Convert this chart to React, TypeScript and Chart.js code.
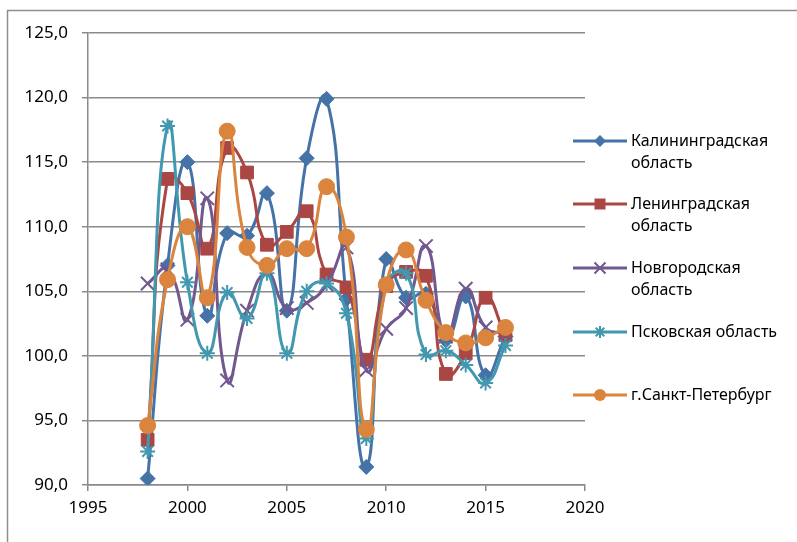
import React, { useEffect, useRef } from "react";
import { Chart, registerables } from "chart.js";

Chart.register(...registerables);

const years = [1998, 1999, 2000, 2001, 2002, 2003, 2004, 2005, 2006, 2007, 2008, 2009, 2010, 2011, 2012, 2013, 2014, 2015, 2016];

const kaliningrad = [90.5, 107.0, 115.0, 103.1, 109.5, 109.3, 112.6, 103.5, 115.3, 119.9, 104.4, 91.4, 107.5, 104.5, 104.8, 101.2, 104.6, 98.5, 101.5];
const leningrad = [93.5, 113.7, 112.6, 108.3, 116.1, 114.2, 108.6, 109.6, 111.2, 106.3, 105.3, 99.7, 105.4, 106.5, 106.2, 98.6, 100.2, 104.5, 101.6];
const novgorod = [105.6, 106.7, 102.8, 112.2, 98.1, 103.5, 106.4, 103.7, 104.1, 105.5, 108.4, 98.9, 102.1, 103.7, 108.5, 101.5, 105.2, 102.2, 101.7];
const pskov = [92.6, 117.8, 105.7, 100.2, 104.9, 102.9, 106.4, 100.2, 105.0, 105.6, 103.3, 93.6, 105.5, 106.4, 100.1, 100.4, 99.3, 97.9, 100.8];
const spb = [94.6, 105.9, 110.0, 104.5, 117.4, 108.4, 107.0, 108.3, 108.3, 113.1, 109.2, 94.3, 105.5, 108.2, 104.3, 101.8, 101.0, 101.4, 102.2];

const seriesNames = [
  ["Калининградская", "область"],
  ["Ленинградская", "область"],
  ["Новгородская", "область"],
  ["Псковская область"],
  ["г.Санкт-Петербург"],
];
const seriesValues = [kaliningrad, leningrad, novgorod, pskov, spb];
const seriesColors = ["#4572A7", "#AA4643", "#71588F", "#4198AF", "#DB843D"];
const seriesShapes = ["rectRot", "rect", "crossRot", "star", "circle"];
const seriesRadius = [7.5, 9, 9.5, 7.5, 8];

const xMin = 1995;
const xMax = 2020;
const yMin = 90;
const yMax = 125;

const FONT = "'Noto Sans', 'Open Sans', sans-serif";
const GRID = "#8a8a8a";

const framePlugin = {
  id: "frame",
  beforeDraw(chart: any) {
    const ctx = chart.ctx;
    ctx.save();
    ctx.strokeStyle = "#8f8f8f";
    ctx.lineWidth = 1.5;
    ctx.beginPath();
    ctx.moveTo(7.5, 542);
    ctx.lineTo(7.5, 10.5);
    ctx.lineTo(797, 10.5);
    ctx.stroke();
    ctx.restore();
  },
};

function drawMarker(ctx: CanvasRenderingContext2D, shape: string, x: number, y: number, color: string) {
  ctx.save();
  ctx.fillStyle = color;
  ctx.strokeStyle = color;
  ctx.beginPath();
  if (shape === "rectRot") {
    const r = 6;
    ctx.moveTo(x, y - r);
    ctx.lineTo(x + r, y);
    ctx.lineTo(x, y + r);
    ctx.lineTo(x - r, y);
    ctx.closePath();
    ctx.fill();
  } else if (shape === "rect") {
    const s = 5.5;
    ctx.rect(x - s, y - s, 2 * s, 2 * s);
    ctx.fill();
  } else if (shape === "circle") {
    ctx.arc(x, y, 6, 0, Math.PI * 2);
    ctx.fill();
  } else if (shape === "crossRot") {
    const r = 5.5;
    ctx.lineWidth = 2;
    ctx.moveTo(x - r, y - r);
    ctx.lineTo(x + r, y + r);
    ctx.moveTo(x + r, y - r);
    ctx.lineTo(x - r, y + r);
    ctx.stroke();
  } else if (shape === "star") {
    const r = 6;
    ctx.lineWidth = 2;
    const d = r * Math.SQRT1_2;
    ctx.moveTo(x, y - r);
    ctx.lineTo(x, y + r);
    ctx.moveTo(x - d, y - d);
    ctx.lineTo(x + d, y + d);
    ctx.moveTo(x + d, y - d);
    ctx.lineTo(x - d, y + d);
    ctx.stroke();
  }
  ctx.restore();
}

const legendPlugin = {
  id: "customLegend",
  afterDraw(chart: any) {
    const ctx = chart.ctx;
    const ys = [141, 204, 268, 332, 395];
    ctx.save();
    seriesNames.forEach((lines, i) => {
      const y = ys[i];
      ctx.strokeStyle = seriesColors[i];
      ctx.lineWidth = 3;
      ctx.beginPath();
      ctx.moveTo(573, y);
      ctx.lineTo(627, y);
      ctx.stroke();
      drawMarker(ctx, seriesShapes[i], 600, y, seriesColors[i]);
      ctx.fillStyle = "#000";
      ctx.font = `16px ${FONT}`;
      ctx.textBaseline = "middle";
      ctx.textAlign = "left";
      lines.forEach((t, k) => ctx.fillText(t, 631, y + k * 22));
    });
    ctx.restore();
  },
};

export default function App() {
  const ref = useRef<HTMLCanvasElement | null>(null);

  useEffect(() => {
    if (!ref.current) return;
    const datasets = seriesValues.map((vals, i) => ({
      label: seriesNames[i].join(" "),
      data: years.map((yr, k) => ({ x: yr, y: vals[k] })),
      borderColor: seriesColors[i],
      backgroundColor: seriesColors[i],
      pointBackgroundColor: seriesColors[i],
      pointBorderColor: seriesColors[i],
      pointStyle: seriesShapes[i],
      pointRadius: seriesRadius[i],
      pointBorderWidth: seriesShapes[i] === "crossRot" || seriesShapes[i] === "star" ? 2 : 1,
      borderWidth: 3,
      tension: 0.5,
      fill: false,
      order: 5 - i,
    }));
    const chart = new Chart(ref.current, {
      type: "line",
      data: { datasets },
      plugins: [framePlugin, legendPlugin],
      options: {
        animation: false,
        responsive: true,
        maintainAspectRatio: false,
        layout: { padding: { left: 0, top: 33, right: 212, bottom: 17 } },
        plugins: { legend: { display: false }, tooltip: { enabled: false } },
        elements: { line: { capBezierPoints: true } },
        scales: {
          x: {
            type: "linear",
            min: xMin,
            max: xMax,
            afterFit(scale: any) {
              scale.height = 40;
            },
            ticks: {
              stepSize: 5,
              color: "#000",
              font: { family: FONT, size: 17 },
              padding: 7,
              maxRotation: 0,
              callback: (v: any) => String(v),
            },
            grid: { drawOnChartArea: false, drawTicks: true, tickLength: 6, color: GRID, lineWidth: 1.5 },
            border: { display: true, color: GRID, width: 1.5 },
          },
          y: {
            type: "linear",
            min: yMin,
            max: yMax,
            afterFit(scale: any) {
              scale.width = 88;
            },
            ticks: {
              stepSize: 5,
              color: "#000",
              font: { family: FONT, size: 17 },
              padding: 14,
              callback: (v: any) => Number(v).toFixed(1).replace(".", ","),
            },
            grid: { drawOnChartArea: true, drawTicks: true, tickLength: 6, color: GRID, lineWidth: 1.5 },
            border: { display: true, color: GRID, width: 1.5 },
          },
        },
      },
    });
    return () => chart.destroy();
  }, []);

  return (
    <div style={{ position: "fixed", left: 0, top: 0, width: 797, height: 542, background: "#fff" }}>
      <canvas ref={ref} />
    </div>
  );
}
